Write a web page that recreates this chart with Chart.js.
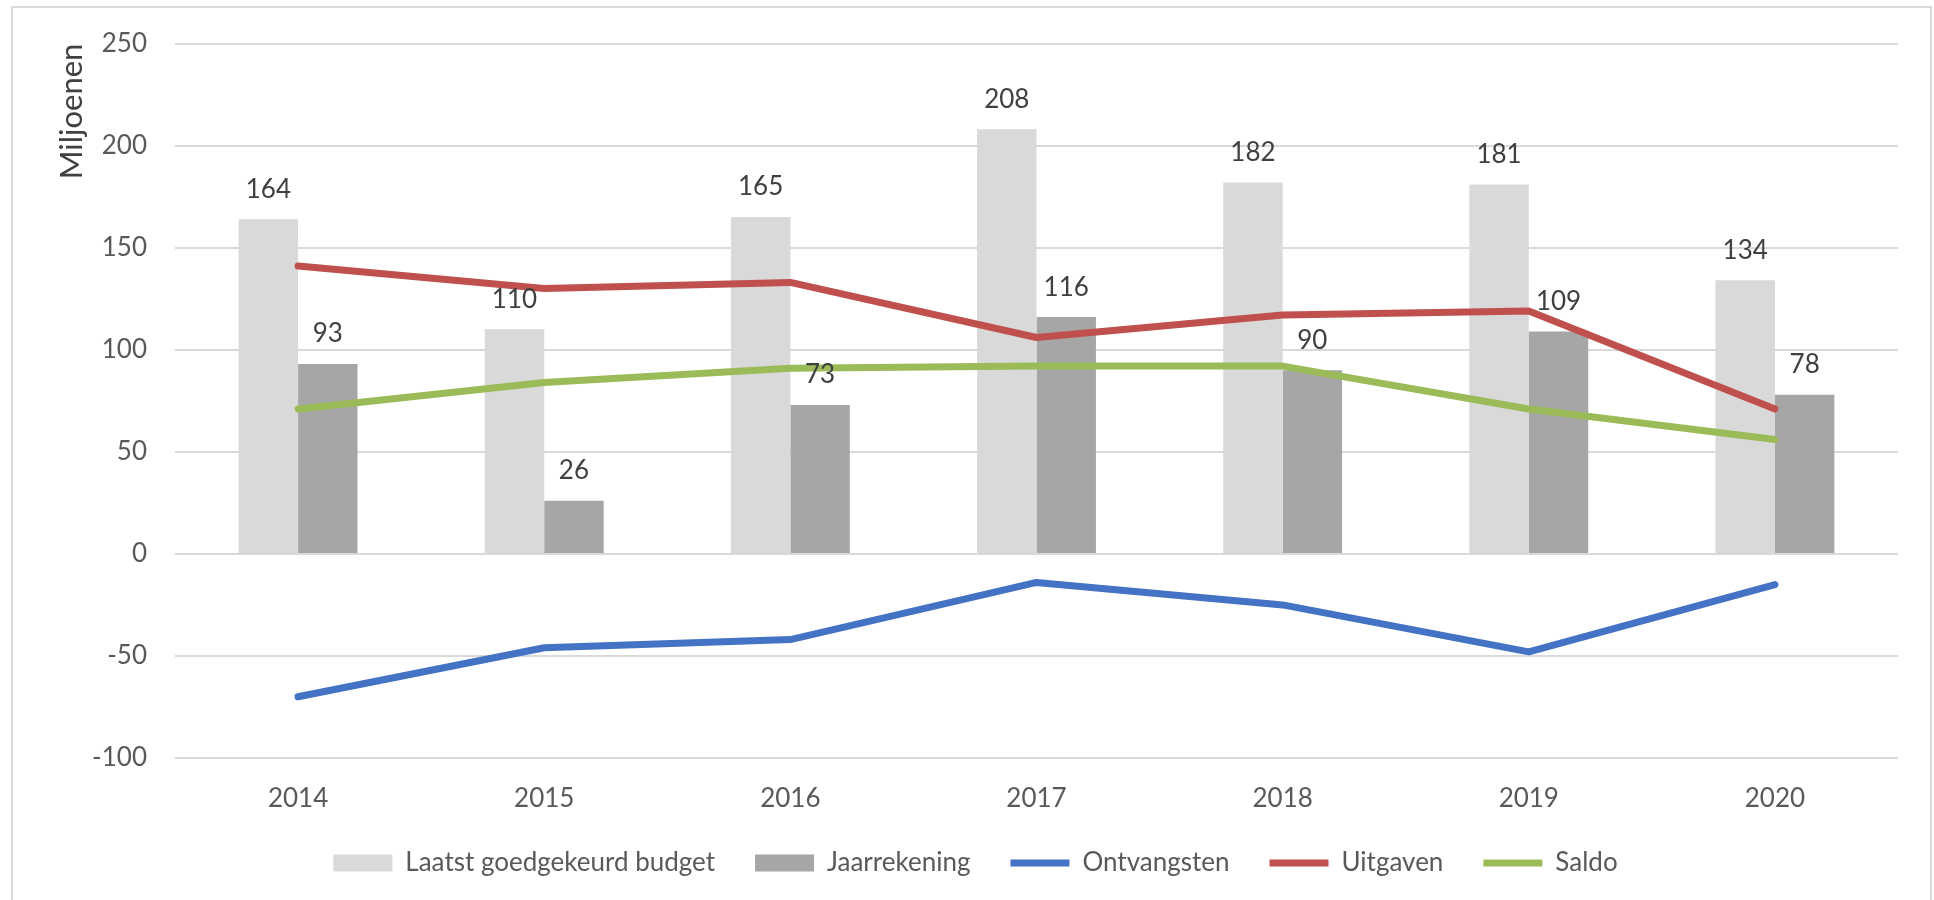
<!DOCTYPE html>
<html>
<head>
<meta charset="utf-8">
<script src="https://cdn.jsdelivr.net/npm/chart.js@4.4.1/dist/chart.umd.min.js"></script>
<style>
  html, body { margin: 0; padding: 0; background: #fff; overflow: hidden; }
  #wrap { position: relative; width: 1934px; height: 900px; }
  #frame { position: absolute; left: 11px; top: 6px; width: 1921px; height: 900px; border: 2px solid #D9D9D9; box-sizing: border-box; pointer-events: none; }
  canvas { position: absolute; left: 0; top: 0; }
</style>
</head>
<body>
<div id="wrap">
  <canvas id="c" width="1934" height="900"></canvas>
  <div id="frame"></div>
</div>
<script>
const years = ['2014', '2015', '2016', '2017', '2018', '2019', '2020'];
const budget = [164, 110, 165, 208, 182, 181, 134];
const jaarrekening = [93, 26, 73, 116, 90, 109, 78];
const ontvangsten = [-70, -46, -42, -14, -25, -48, -15];
const uitgaven = [141, 130, 133, 106, 117, 119, 71];
const saldo = [71, 84, 91, 92, 92, 71, 56];
const yTicks = { min: -100, max: 250, step: 50 };
const seriesNames = ['Laatst goedgekeurd budget', 'Jaarrekening', 'Ontvangsten', 'Uitgaven', 'Saldo'];

const FONT = 'Lato';

const barLabels = {
  id: 'barLabels',
  afterDatasetsDraw(chart) {
    const ctx = chart.ctx;
    ctx.save();
    ctx.font = '26px ' + FONT;
    ctx.fillStyle = '#404040';
    ctx.textAlign = 'center';
    ctx.textBaseline = 'middle';
    chart.data.datasets.forEach((ds, i) => {
      if (ds.type !== 'bar') return;
      const meta = chart.getDatasetMeta(i);
      meta.data.forEach((el, j) => {
        ctx.fillText(String(ds.data[j]), el.x, el.y - 30);
      });
    });
    ctx.restore();
  }
};

const lineDs = (label, data, color) => ({
  type: 'line', label, data,
  borderColor: color, backgroundColor: color,
  borderWidth: 7, pointRadius: 0, pointHoverRadius: 0,
  tension: 0, borderCapStyle: 'round', borderJoinStyle: 'round',
  pointStyle: 'line', order: 1
});
const barDs = (label, data, color) => ({
  type: 'bar', label, data,
  backgroundColor: color, borderWidth: 0,
  categoryPercentage: 0.483, barPercentage: 1.0,
  pointStyle: 'rect', order: 2
});

new Chart(document.getElementById('c'), {
  data: {
    labels: years,
    datasets: [
      barDs(seriesNames[0], budget, '#D9D9D9'),
      barDs(seriesNames[1], jaarrekening, '#A6A6A6'),
      lineDs(seriesNames[2], ontvangsten, '#4472C4'),
      lineDs(seriesNames[3], uitgaven, '#C0504D'),
      lineDs(seriesNames[4], saldo, '#9BBB59')
    ]
  },
  options: {
    responsive: false,
    animation: false,
    layout: { padding: { top: 41, right: 36, left: 53, bottom: 14 } },
    plugins: {
      tooltip: { enabled: false },
      legend: {
        position: 'bottom',
        labels: {
          font: { family: FONT, size: 26 },
          color: '#595959',
          usePointStyle: true,
          pointStyleWidth: 59,
          boxHeight: 17,
          padding: 40,
          sort: (a, b) => a.datasetIndex - b.datasetIndex
        }
      }
    },
    scales: {
      x: {
        grid: { display: false, drawTicks: false },
        border: { display: false },
        ticks: { font: { family: FONT, size: 26 }, color: '#595959', padding: 25 },
        afterFit: s => { s.height = 52; }
      },
      y: {
        min: yTicks.min, max: yTicks.max,
        grid: { color: '#D9D9D9', lineWidth: 2, drawTicks: false },
        border: { display: false },
        ticks: { stepSize: yTicks.step, font: { family: FONT, size: 26 }, color: '#595959', padding: 28 },
        title: { display: true, text: 'Miljoenen', align: 'end', font: { family: FONT, size: 31 }, color: '#404040', padding: { top: 0, bottom: 0 } },
        afterFit: s => { s.width = 122; }
      }
    }
  },
  plugins: [barLabels]
});
</script>
</body>
</html>
